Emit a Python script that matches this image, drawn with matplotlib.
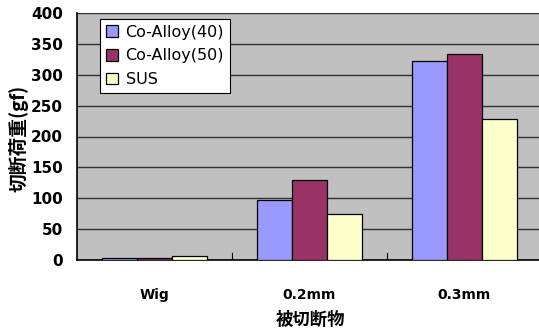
import numpy as np
import matplotlib.pyplot as plt

plt.rcParams['font.family'] = ['Noto Sans CJK JP', 'DejaVu Sans']

categories = ['Wig', '0.2mm', '0.3mm']
series_names = ['Co-Alloy(40)', 'Co-Alloy(50)', 'SUS']
co_alloy_40 = [4, 97, 322]
co_alloy_50 = [4, 130, 334]
sus = [6, 74, 229]
yticks = [0, 50, 100, 150, 200, 250, 300, 350, 400]

colors = ['#9999FF', '#993366', '#FFFFCC']

fig = plt.figure(figsize=(5.39, 3.30), dpi=100)
W, H = 539, 330
# plot area runs slightly past the right edge of the figure
ax = fig.add_axes([77 / W, 1 - 260 / H, (542 - 77) / W, (260 - 13) / H])
ax.set_facecolor('#C0C0C0')

x = np.arange(len(categories))
bw = 35 / 155
for i, (vals, name) in enumerate(zip([co_alloy_40, co_alloy_50, sus], series_names)):
    ax.bar(x + (i - 1) * bw, vals, bw, color=colors[i], edgecolor='black',
           linewidth=0.9, label=name, zorder=3)

ax.set_xlim(-0.5, 2.5)
ax.set_ylim(0, 400)
ax.set_yticks(yticks)
ax.yaxis.grid(True, color='#303030', linewidth=1.0, zorder=1)
ax.set_axisbelow(True)
ax.tick_params(axis='y', length=0, pad=10, labelsize=11)
for lbl in ax.get_yticklabels():
    lbl.set_fontweight('bold')
    lbl.set_family('DejaVu Sans')

ax.set_xticks(x)
ax.set_xticklabels(categories, fontsize=10, fontweight='bold', family='DejaVu Sans')
ax.tick_params(axis='x', length=0, pad=20)
# small category separators on the baseline
for b in [0.5, 1.5]:
    ax.plot([b, b], [0, 11], color='black', linewidth=0.8, zorder=2)

for s in ['top', 'right']:
    ax.spines[s].set_visible(False)
ax.spines['left'].set_color('black')
ax.spines['bottom'].set_color('black')
ax.spines['left'].set_linewidth(1.2)
ax.spines['bottom'].set_linewidth(1.2)

fig.text(19 / W, 1 - 138 / H, '切断荷重(gf)', rotation=90, ha='center', va='center',
         fontsize=13.5, fontweight='bold')
fig.text(310 / W, 1 - 320 / H, '被切断物', ha='center', va='center',
         fontsize=12.5, fontweight='bold')

leg = ax.legend(loc='upper left', bbox_to_anchor=((100 - 77) / 465, 1 - (19 - 13) / 247),
                fontsize=11.5, frameon=True, fancybox=False, framealpha=1,
                edgecolor='black', borderpad=0.35, labelspacing=0.55,
                handlelength=0.75, handleheight=0.75, handletextpad=0.5, borderaxespad=0)
leg.get_frame().set_linewidth(0.8)
for t in leg.get_texts():
    t.set_family('DejaVu Sans')

fig.savefig('out.png', dpi=100)
